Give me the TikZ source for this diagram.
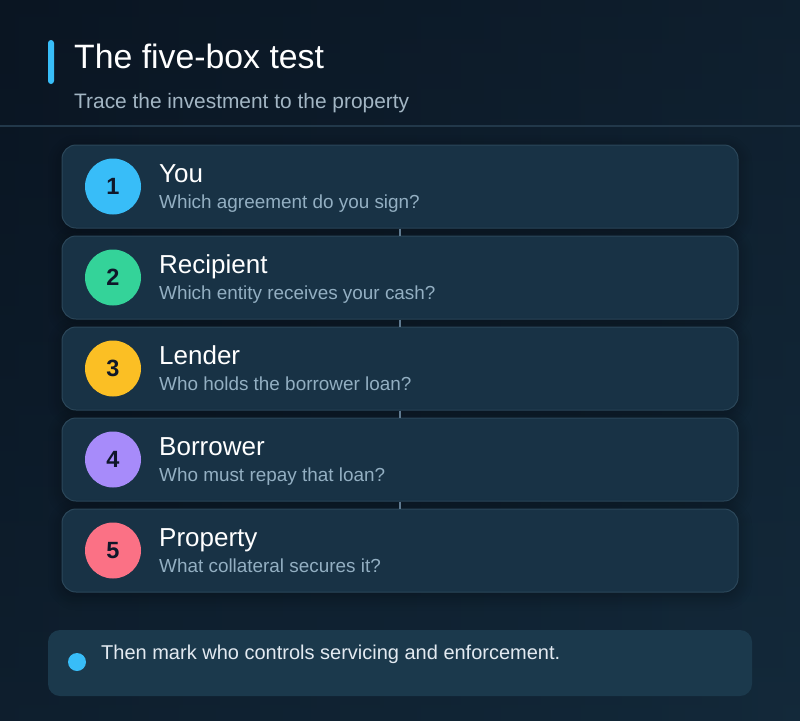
\documentclass[tikz,border=0pt]{standalone}
\usepackage{fontspec}
\setmainfont{Liberation Sans}
\usetikzlibrary{shadows.blur}
\definecolor{bgA}{HTML}{0A1522}
\definecolor{bgB}{HTML}{13293A}
\definecolor{boxfill}{HTML}{183245}
\definecolor{boxline}{HTML}{2B475A}
\definecolor{divline}{HTML}{22384A}
\definecolor{subtxt}{HTML}{A3B6C4}
\definecolor{qtxt}{HTML}{93AFC2}
\definecolor{notefill}{HTML}{1B394C}
\definecolor{notetxt}{HTML}{E3EAF1}
\definecolor{connc}{HTML}{5F7A90}
\definecolor{cA}{HTML}{38BDF8}
\definecolor{cB}{HTML}{34D399}
\definecolor{cC}{HTML}{FBBF24}
\definecolor{cD}{HTML}{A78BFA}
\definecolor{cE}{HTML}{FB7185}
\definecolor{numtxt}{HTML}{0F172A}
\tikzset{
  stepbox/.style={draw=boxline, line width=1pt, fill=boxfill, rounded corners=14pt,
    minimum width=676pt, minimum height=83pt, inner sep=0pt,
    blur shadow={shadow blur steps=10, shadow xshift=0pt, shadow yshift=-4pt, shadow blur radius=14pt, shadow opacity=35}},
  numdot/.style={circle, minimum size=56pt, inner sep=0pt, text=numtxt, font=\fontsize{23.5}{26}\selectfont\bfseries},
  steptitle/.style={anchor=base west, text=white, font=\fontsize{26}{29}\selectfont, inner sep=0pt},
  stepq/.style={anchor=base west, text=qtxt, font=\fontsize{18.9}{21}\selectfont, inner sep=0pt},
  connline/.style={draw=connc, line width=2pt}
}
\begin{document}
\begin{tikzpicture}[x=1pt,y=1pt]
\useasboundingbox (0,0) rectangle (800,-720);
\shade[shading angle=135, top color=bgA, bottom color=bgB] (-2,2) rectangle (802,-722);
\shade[left color=bgA, right color=bgB, opacity=0.5] (-2,2) rectangle (802,-722);
% header
\fill[cA, rounded corners=3pt] (48,-40) rectangle (54,-84);
\node[anchor=base west, inner sep=0pt, text=white, font=\fontsize{33.8}{37}\selectfont] (title) at (74,-68) {The five-box test};
\node[anchor=base west, inner sep=0pt, text=subtxt, font=\fontsize{20.9}{24}\selectfont] (sub) at (74,-108) {Trace the investment to the property};
\draw[divline, line width=1.5pt] (-2,-126) -- (802,-126);
% boxes
\foreach \i/\t/\q/\c in {1/You/Which agreement do you sign?/cA,
                          2/Recipient/Which entity receives your cash?/cB,
                          3/Lender/Who holds the borrower loan?/cC,
                          4/Borrower/Who must repay that loan?/cD,
                          5/Property/What collateral secures it?/cE}{
  \pgfmathsetmacro{\yc}{-186.5-91*(\i-1)}
  \node[stepbox] (b\i) at (400,\yc) {};
  \node[numdot, fill=\c] (n\i) at (113,\yc) {\i};
  \node[steptitle] (t\i) at (159,\yc+4) {\t};
  \node[stepq] (q\i) at (159,\yc-22) {\q};
}
\foreach \i/\j in {1/2,2/3,3/4,4/5}{
  \draw[connline] (b\i.south) -- (b\j.north);
}
% note
\node[fill=notefill, rounded corners=12pt, minimum width=704pt, minimum height=66pt, inner sep=0pt] (note) at (400,-663) {};
\node[circle, fill=cA, minimum size=18pt, inner sep=0pt] (dot) at (77,-662) {};
\node[anchor=base west, inner sep=0pt, text=notetxt, font=\fontsize{20}{23}\selectfont] (notetext) at (101,-659) {Then mark who controls servicing and enforcement.};
\end{tikzpicture}
\end{document}
